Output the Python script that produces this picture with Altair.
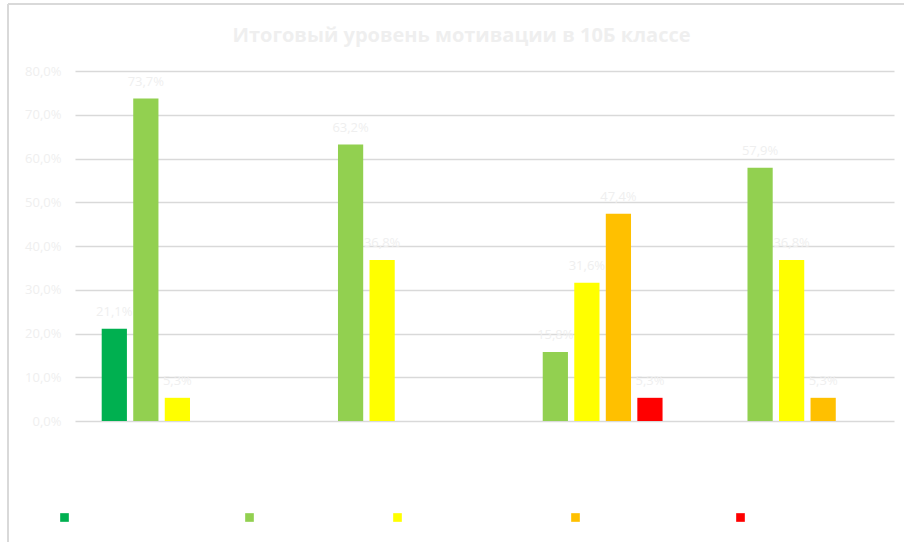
import altair as alt
import pandas as pd

# Motivation levels (series) and their colours
levels = [
    "высокий уровень учебной мотивации",
    "хорошая учебная мотивация",
    "положительное отношение к школе",
    "сниженная школьная мотивация",
    "негативное отношение",
]
level_colors = ["#00b050", "#92d050", "#ffff00", "#ffc000", "#ff0000"]

# Diagnostic blocks (categories on the x axis)
blocks = [
    "Отношение к учёбе",
    "Учебная активность",
    "Отношение к школе",
    "Итоговый показатель",
]

# Share of pupils per level in each block (None = no bar)
very_high = [0.211, None, None, None]
high = [0.737, 0.632, 0.158, 0.579]
normal = [0.053, 0.368, 0.316, 0.368]
reduced = [None, None, 0.474, 0.053]
low = [None, None, 0.053, None]

series = [very_high, high, normal, reduced, low]
rows = []
for lvl, vals in zip(levels, series):
    for blk, v in zip(blocks, vals):
        if v is not None:
            rows.append({"block": blk, "level": lvl, "share": v})
df = pd.DataFrame(rows)

pct_expr = "replace(format(datum.share, '.1%'), '.', ',')"

base = alt.Chart(df).transform_calculate(label=pct_expr)

x_enc = alt.X(
    "block:N",
    sort=blocks,
    title=None,
    scale=alt.Scale(paddingInner=0.23, paddingOuter=0.115),
    axis=alt.Axis(
        domain=False,
        ticks=False,
        labelAngle=0,
        labelColor="#ffffff",
        labelFontSize=12,
        labelPadding=10,
    ),
)
offset_scale = alt.Scale(domain=levels, paddingInner=0.2, paddingOuter=0.1)
y_enc = alt.Y(
    "share:Q",
    title=None,
    scale=alt.Scale(domain=[0, 0.8], nice=False),
    axis=alt.Axis(
        values=[0, 0.1, 0.2, 0.3, 0.4, 0.5, 0.6, 0.7, 0.8],
        labelExpr="replace(format(datum.value, '.1%'), '.', ',')",
        domain=False,
        ticks=False,
        grid=True,
        gridColor="#d9d9d9",
        gridWidth=1.3,
        labelColor="#efefef",
        labelFontSize=13,
        labelPadding=14,
    ),
)

bars = base.mark_bar().encode(
    x=x_enc,
    xOffset=alt.XOffset("level:N", sort=levels, scale=offset_scale),
    y=y_enc,
    color=alt.Color(
        "level:N",
        sort=levels,
        scale=alt.Scale(domain=levels, range=level_colors),
        legend=alt.Legend(
            title=None,
            orient="none",
            direction="horizontal",
            legendX=-15,
            legendY=442,
            gridAlign="none",
            symbolType="square",
            symbolSize=75,
            symbolStrokeWidth=0,
            labelColor="#ffffff",
            labelFontSize=8.5,
            labelLimit=400,
            columnPadding=13,
        ),
    ),
)

labels = base.mark_text(
    dy=-17, fontSize=13, color="#efefef", font="Open Sans"
).encode(
    x=alt.X("block:N", sort=blocks),
    xOffset=alt.XOffset("level:N", sort=levels, scale=offset_scale),
    y="share:Q",
    text="label:N",
)

# Light frame around the chart (left and top edges)
frame_left = alt.Chart(df).mark_rule(color="#d9d9d9", strokeWidth=1.5, clip=False).encode(
    x=alt.value(-67), y=alt.value(-67), y2=alt.value(480)
)
frame_top = alt.Chart(df).mark_rule(color="#d9d9d9", strokeWidth=1.5, clip=False).encode(
    x=alt.value(-67), x2=alt.value(840), y=alt.value(-67)
)

chart = (
    alt.layer(bars, labels, frame_left, frame_top)
    .properties(
        width=819,
        height=350,
        title=alt.TitleParams(
            "Итоговый уровень мотивации в 10Б классе",
            font="Open Sans",
            fontSize=20,
            fontWeight="bold",
            color="#efefef",
            anchor="middle",
            baseline="alphabetic",
            dx=-23,
            dy=59,
            offset=0,
        ),
        autosize=alt.AutoSizeParams(type="none"),
        padding={"left": 75, "top": 71, "right": 10, "bottom": 121},
        background="#ffffff",
    )
    .configure_view(stroke=None)
    .configure_axis(labelFont="Open Sans")
    .configure_legend(labelFont="Open Sans")
)

chart.save("out.html", embed_options={"renderer": "svg", "actions": False})
